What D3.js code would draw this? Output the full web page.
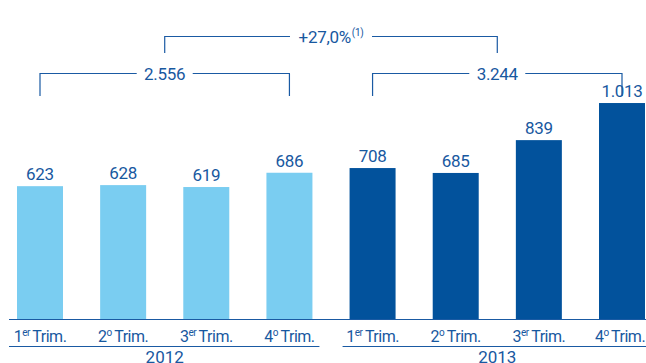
<!DOCTYPE html>
<html><head><meta charset="utf-8">
<script src="https://cdn.jsdelivr.net/npm/d3@7"></script>
<style>
html,body{margin:0;padding:0;background:#fff;}
svg{display:block;}
text{font-family:Roboto,"Open Sans",sans-serif;fill:#18589f;}
</style></head>
<body>
<svg id="c" width="646" height="363"></svg>
<script>
// ---- data ----
const years = ["2012", "2013"];
const quarterNums = ["1", "2", "3", "4"];
const quarterSups = ["er", "o", "er", "o"];
const quarterWord = "Trim.";
const values2012 = [623, 628, 619, 686];
const values2013 = [708, 685, 839, 1013];
const valueLabels2012 = ["623", "628", "619", "686"];
const valueLabels2013 = ["708", "685", "839", "1.013"];
const yearTotals = ["2.556", "3.244"];
const growthLabel = "+27,0%";
const growthNote = "(1)";

// ---- layout ----
const W = 646, H = 363;
const baseY = 319;
const colors = { "2012": "#7acdf1", "2013": "#02529c" };
const lineColor = "#1a5aa3";

const rows = [];
years.forEach((yr, gi) => {
  const vals = gi === 0 ? values2012 : values2013;
  const labs = gi === 0 ? valueLabels2012 : valueLabels2013;
  vals.forEach((v, qi) => rows.push({ key: yr + "-" + qi, year: yr, gi, qi, value: v, label: labs[qi] }));
});

const svg = d3.select("#c");
const x = d3.scalePoint().domain(rows.map(d => d.key)).range([40, 622]);
const y = d3.scaleLinear().domain([0, 1000]).range([baseY, baseY - 213.2]);
const barW = 46;

// bars
svg.append("g").selectAll("rect").data(rows).join("rect")
  .attr("x", d => x(d.key) - barW / 2)
  .attr("width", barW)
  .attr("y", d => y(d.value))
  .attr("height", d => y(0) - y(d.value))
  .attr("fill", d => colors[d.year]);

// value labels
svg.append("g").selectAll("text").data(rows).join("text")
  .attr("x", d => x(d.key))
  .attr("y", d => y(d.value) - 6)
  .attr("text-anchor", "middle")
  .attr("font-size", 17)
  .attr("letter-spacing", -0.3)
  .text(d => d.label);

// baseline axis
svg.append("line").attr("x1", 9).attr("x2", W).attr("y1", baseY + 0.5).attr("y2", baseY + 0.5)
  .attr("stroke", lineColor).attr("stroke-width", 1.2);

// category labels
const cat = svg.append("g").selectAll("text").data(rows).join("text")
  .attr("x", d => x(d.key) - (d.gi === 1 && d.qi === 3 ? 2 : 0))
  .attr("y", 342)
  .attr("text-anchor", "middle")
  .attr("font-size", 16)
  .attr("letter-spacing", -0.5);
cat.append("tspan").text(d => quarterNums[d.qi]);
cat.append("tspan").attr("font-size", 10).attr("dy", -6).text(d => quarterSups[d.qi]);
cat.append("tspan").attr("dy", 6).attr("dx", 2.5).text(quarterWord);

// year group lines and labels
years.forEach((yr, gi) => {
  const keys = rows.filter(r => r.gi === gi).map(r => r.key);
  const x0 = gi === 0 ? 9 : x(keys[0]) - 30;
  const x1 = gi === 0 ? x(keys[3]) + 30 : W;
  svg.append("line").attr("x1", x0).attr("x2", x1).attr("y1", 346.5).attr("y2", 346.5)
    .attr("stroke", lineColor).attr("stroke-width", 1.2);
  svg.append("text").attr("x", (x(keys[0]) + x(keys[3])) / 2)
    .attr("y", 363).attr("text-anchor", "middle").attr("font-size", 17).text(yr);
});

// brackets
function bracket(xl, xr, yTop, yBot, label, note, gapHalf) {
  const g = svg.append("g");
  const cx = (xl + xr) / 2;
  const path = `M${xl},${yBot} V${yTop} H${cx - gapHalf} M${cx + gapHalf},${yTop} H${xr} V${yBot}`;
  g.append("path").attr("d", path).attr("fill", "none").attr("stroke", lineColor).attr("stroke-width", 1.2);
  const t = g.append("text").attr("x", cx).attr("y", yTop + 6).attr("text-anchor", "middle")
    .attr("font-size", 17).attr("letter-spacing", -0.3);
  t.append("tspan").text(label);
  if (note) t.append("tspan").attr("font-size", 10).attr("dy", -7).attr("dx", 1).text(note);
  return cx;
}
const k12 = rows.filter(r => r.gi === 0).map(r => r.key);
const k13 = rows.filter(r => r.gi === 1).map(r => r.key);
const c12 = bracket(x(k12[0]), x(k12[3]), 73.5, 96, yearTotals[0], null, 28);
const c13 = bracket(x(k13[0]), x(k13[3]), 73.5, 96, yearTotals[1], null, 28);
bracket(c12, c13, 36.5, 53, growthLabel, growthNote, 41);
</script>
</body></html>
